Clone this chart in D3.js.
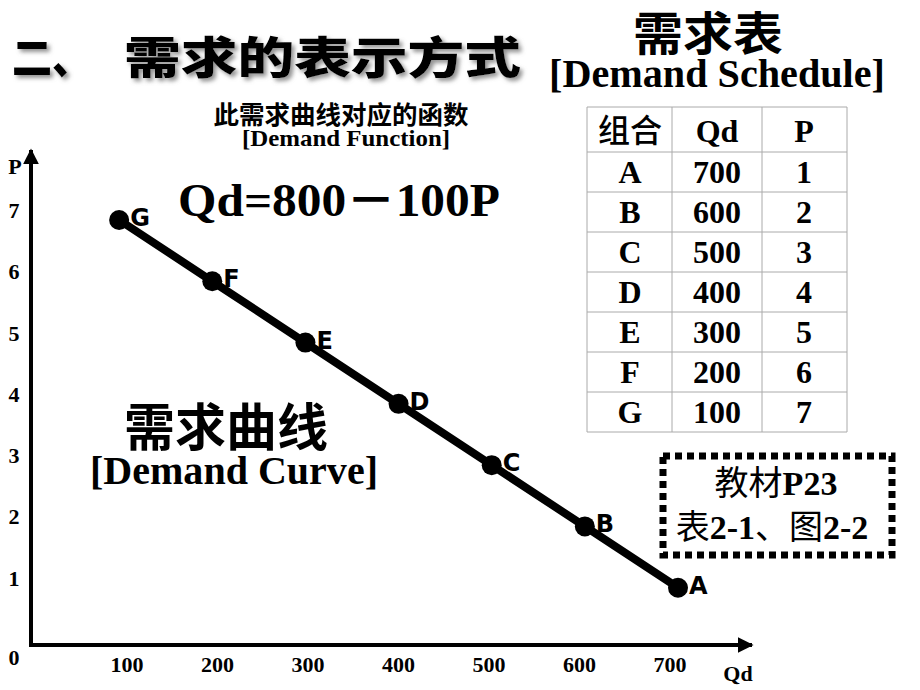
<!DOCTYPE html>
<html><head><meta charset="utf-8">
<script src="https://cdn.jsdelivr.net/npm/d3@7/dist/d3.min.js"></script>
<style>
html,body{margin:0;padding:0;background:#fff;}
svg{display:block;}
</style></head>
<body>
<svg id="chart" width="920" height="690"></svg>
<script>
// ---- data ----
const labels = ["A","B","C","D","E","F","G"];
const qd = [700,600,500,400,300,200,100];
const price = [1,2,3,4,5,6,7];
const xTicks = [100,200,300,400,500,600,700];
const yTicks = [1,2,3,4,5,6,7];
const tableHeader = ["组合","Qd","P"];

const svg = d3.select("#chart");
const serif = "'Liberation Serif','Times New Roman','Noto Sans CJK SC',serif";
const cjk = "'Noto Sans CJK SC','Noto Sans',sans-serif";
const sans = "'DejaVu Sans','Noto Sans',sans-serif";

const x = d3.scaleLinear().domain([0,700]).range([26,678]);
const y = d3.scaleLinear().domain([0,7]).range([649,220]);
const xLab = d3.scaleLinear().domain([100,700]).range([127,670]);

// ---- defs ----
const defs = svg.append("defs");
const f = defs.append("filter").attr("id","sh").attr("x","-10%").attr("y","-30%").attr("width","130%").attr("height","170%");
f.append("feDropShadow").attr("dx",3).attr("dy",3).attr("stdDeviation",2).attr("flood-color","#777").attr("flood-opacity",0.8);
defs.append("marker").attr("id","arr").attr("viewBox","0 0 10 10").attr("refX",9).attr("refY",5)
  .attr("markerWidth",4).attr("markerHeight",4).attr("markerUnits","strokeWidth").attr("orient","auto")
  .append("path").attr("d","M0,0 L10,5 L0,10 Z").attr("fill","#000");

// ---- title ----
const tg = svg.append("g").attr("filter","url(#sh)");
tg.append("text").attr("x",12).attr("y",74).attr("font-family",cjk).attr("font-weight",900)
  .attr("font-size",44).attr("textLength",80).attr("lengthAdjust","spacingAndGlyphs").text("二、");
tg.append("text").attr("x",124).attr("y",74).attr("font-family",cjk).attr("font-weight",900)
  .attr("font-size",44).attr("textLength",397).attr("lengthAdjust","spacingAndGlyphs").text("需求的表示方式");

// ---- headings ----
svg.append("text").attr("x",708).attr("y",50).attr("text-anchor","middle").attr("font-family",cjk)
  .attr("font-weight",700).attr("font-size",46).attr("textLength",150).attr("lengthAdjust","spacingAndGlyphs")
  .text("需求表");
svg.append("text").attr("x",549).attr("y",87).attr("font-family",serif)
  .attr("font-weight",700).attr("font-size",39).attr("textLength",336).attr("lengthAdjust","spacingAndGlyphs")
  .text("[Demand Schedule]");
svg.append("text").attr("x",341).attr("y",124).attr("text-anchor","middle").attr("font-family",cjk)
  .attr("font-weight",700).attr("font-size",25.5).text("此需求曲线对应的函数");
svg.append("text").attr("x",242).attr("y",146).attr("font-family",serif)
  .attr("font-weight",700).attr("font-size",23).attr("textLength",208).attr("lengthAdjust","spacingAndGlyphs")
  .text("[Demand Function]");
svg.append("text").attr("x",178).attr("y",216).attr("font-family",serif)
  .attr("font-weight",700).attr("font-size",46).attr("textLength",322).attr("lengthAdjust","spacingAndGlyphs")
  .text("Qd=800－100P");
svg.append("text").attr("x",226).attr("y",446).attr("text-anchor","middle").attr("font-family",cjk)
  .attr("font-weight",700).attr("font-size",51).text("需求曲线");
svg.append("text").attr("x",90).attr("y",484).attr("font-family",serif)
  .attr("font-weight",700).attr("font-size",39).attr("textLength",288).attr("lengthAdjust","spacingAndGlyphs")
  .text("[Demand Curve]");

// ---- axes ----
svg.append("line").attr("x1",31).attr("y1",645).attr("x2",31).attr("y2",150)
  .attr("stroke","#000").attr("stroke-width",4).attr("marker-end","url(#arr)");
svg.append("line").attr("x1",29).attr("y1",645).attr("x2",752).attr("y2",645)
  .attr("stroke","#000").attr("stroke-width",4).attr("marker-end","url(#arr)");
svg.append("text").attr("x",15).attr("y",174).attr("text-anchor","middle").attr("font-family",serif)
  .attr("font-weight",700).attr("font-size",22).text("P");
svg.append("text").attr("x",738).attr("y",681).attr("text-anchor","middle").attr("font-family",serif)
  .attr("font-weight",700).attr("font-size",22).text("Qd");
svg.selectAll("text.xt").data(xTicks).enter().append("text").attr("class","xt")
  .attr("x",d=>xLab(d)).attr("y",672).attr("text-anchor","middle").attr("font-family",serif)
  .attr("font-weight",700).attr("font-size",22).text(d=>d);
svg.selectAll("text.yt").data(yTicks).enter().append("text").attr("class","yt")
  .attr("x",14).attr("y",d=>y(d)-2).attr("text-anchor","middle").attr("font-family",serif)
  .attr("font-weight",700).attr("font-size",22).text(d=>d);
svg.append("text").attr("x",14).attr("y",665).attr("text-anchor","middle").attr("font-family",serif)
  .attr("font-weight",700).attr("font-size",22).text("0");

// ---- demand curve ----
const pts = labels.map((l,i)=>({l, q:qd[i], p:price[i]}));
svg.append("path").datum(pts).attr("d",d3.line().x(d=>x(d.q)).y(d=>y(d.p)))
  .attr("fill","none").attr("stroke","#000").attr("stroke-width",8);
svg.selectAll("circle.pt").data(pts).enter().append("circle").attr("class","pt")
  .attr("cx",d=>x(d.q)).attr("cy",d=>y(d.p)).attr("r",10).attr("fill","#000");
svg.selectAll("text.pl").data(pts).enter().append("text").attr("class","pl")
  .attr("x",d=>x(d.q)+11).attr("y",d=>y(d.p)+6).attr("font-family",sans)
  .attr("font-weight",700).attr("font-size",24).text(d=>d.l);

// ---- table ----
const colX = [587,672,762,847];
const rowY = [107,152];
for(let i=0;i<7;i++) rowY.push(152+40*(i+1));
const tbl = svg.append("g");
const gridColor = "#aaa";
rowY.forEach(v=>tbl.append("line").attr("x1",colX[0]).attr("x2",colX[3]).attr("y1",v).attr("y2",v)
  .attr("stroke",gridColor).attr("stroke-width",1));
colX.forEach(v=>tbl.append("line").attr("x1",v).attr("x2",v).attr("y1",rowY[0]).attr("y2",rowY[rowY.length-1])
  .attr("stroke",gridColor).attr("stroke-width",1));
const colC = [630,717,804];
tableHeader.forEach((h,i)=>tbl.append("text").attr("x",colC[i]).attr("y",142).attr("text-anchor","middle")
  .attr("font-family", i===0?cjk:serif).attr("font-weight", i===0?500:700).attr("font-size",32).text(h));
pts.forEach((d,r)=>{
  const cy = rowY[r+1]+31;
  [d.l, d.q, d.p].forEach((v,c)=>tbl.append("text").attr("x",colC[c]).attr("y",cy).attr("text-anchor","middle")
    .attr("font-family",serif).attr("font-weight",700).attr("font-size",32).text(v));
});

// ---- dotted note box ----
svg.append("rect").attr("x",663).attr("y",456).attr("width",229).attr("height",99)
  .attr("fill","none").attr("stroke","#000").attr("stroke-width",7).attr("stroke-dasharray","7 5");
const n1 = svg.append("text").attr("x",776).attr("y",495).attr("text-anchor","middle").attr("font-size",34)
  .attr("font-family",serif);
n1.append("tspan").text("教材");
n1.append("tspan").attr("font-weight",700).text("P23");
const n2 = svg.append("text").attr("x",772).attr("y",539).attr("text-anchor","middle").attr("font-size",34)
  .attr("font-family",serif);
n2.append("tspan").text("表");
n2.append("tspan").attr("font-weight",700).text("2-1");
n2.append("tspan").text("、图");
n2.append("tspan").attr("font-weight",700).text("2-2");
</script>
</body></html>
